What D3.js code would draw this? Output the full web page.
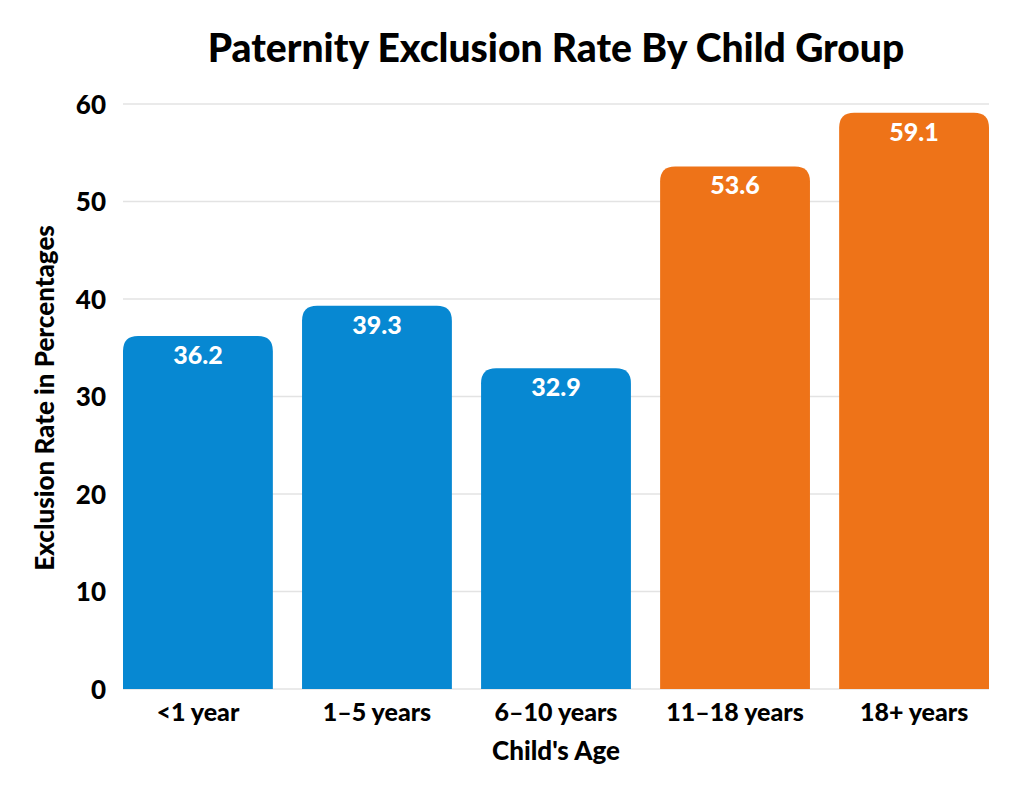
<!DOCTYPE html>
<html>
<head>
<meta charset="utf-8">
<script src="https://cdn.jsdelivr.net/npm/d3@7"></script>
<style>
body{margin:0;background:#fff;}
text{font-family:Lato,"Noto Sans",sans-serif;font-weight:900;}
</style>
</head>
<body>
<svg width="1024" height="800"></svg>
<script>
var categories=["<1 year","1\u20135 years","6\u201310 years","11\u201318 years","18+ years"];
var rates=[36.2,39.3,32.9,53.6,59.1];
var barColors=["#0788d2","#0788d2","#0788d2","#ee7318","#ee7318"];
var yTicks=[0,10,20,30,40,50,60];

var svg=d3.select('svg');
var plotLeft=123, plotRight=989, plotTop=104, plotBottom=689;

var x=d3.scaleBand().domain(categories).range([plotLeft,plotRight]).paddingInner(0.163).paddingOuter(0);
var y=d3.scaleLinear().domain([0,60]).range([plotBottom,plotTop]);

// gridlines
svg.append('g').selectAll('line').data(yTicks).enter().append('line')
    .attr('x1',plotLeft).attr('x2',plotRight)
    .attr('y1',function(d){return y(d);}).attr('y2',function(d){return y(d);})
    .style('stroke','#e3e3e3').style('stroke-width',1.5);

// y axis labels
var yAxis=d3.axisLeft(y).tickValues(yTicks).tickSize(0).tickPadding(0);
var gy=svg.append('g').attr('transform','translate(106,0)').call(yAxis);
gy.select('.domain').remove();
gy.selectAll('text').style('font-size','26px').style('fill','#000').attr('dy','0.35em');

// bars with rounded tops
function barPath(x0,w,yt,yb,r){
    return 'M'+x0+','+yb+'V'+(yt+r)+'Q'+x0+','+yt+' '+(x0+r)+','+yt+
        'H'+(x0+w-r)+'Q'+(x0+w)+','+yt+' '+(x0+w)+','+(yt+r)+'V'+yb+'Z';
}
svg.append('g').selectAll('path').data(rates).enter().append('path')
    .attr('d',function(d,i){return barPath(x(categories[i]),x.bandwidth(),y(d),y(0),15);})
    .style('fill',function(d,i){return barColors[i];});

// value labels
svg.append('g').selectAll('text').data(rates).enter().append('text')
    .attr('x',function(d,i){return x(categories[i])+x.bandwidth()/2;})
    .attr('y',function(d){return y(d)+28;})
    .attr('text-anchor','middle')
    .style('font-size','25px').style('fill','#fff')
    .text(function(d){return d.toFixed(1);});

// x axis labels
var xAxis=d3.axisBottom(x).tickSize(0).tickPadding(0);
var gx=svg.append('g').attr('transform','translate(0,'+plotBottom+')').call(xAxis);
gx.select('.domain').remove();
gx.selectAll('text').style('font-size','25px').style('fill','#000').attr('dy','1.27em');

// titles
svg.append('text').attr('x',556).attr('y',62).attr('text-anchor','middle')
    .style('font-size','39px').style('fill','#000')
    .text('Paternity Exclusion Rate By Child Group');
svg.append('text').attr('x',556).attr('y',760).attr('text-anchor','middle')
    .style('font-size','26px').style('fill','#000')
    .text("Child's Age");
svg.append('text').attr('transform','translate(54,398) rotate(-90)').attr('text-anchor','middle')
    .style('font-size','26px').style('fill','#000')
    .text('Exclusion Rate in Percentages');
</script>
</body>
</html>
